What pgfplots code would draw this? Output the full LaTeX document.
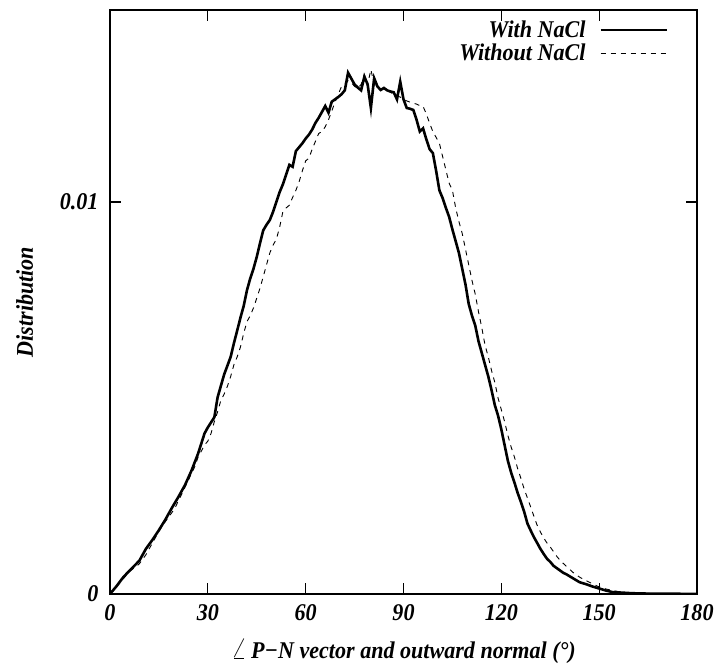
\documentclass[border=0pt]{standalone}
\usepackage{fontspec}
\setmainfont[FakeStretch=0.92]{Liberation Serif}
\usepackage{pgfplots}
\pgfplotsset{compat=1.18}

\pgfplotstableread{
x y
0 0
2 0.00020
4 0.00042
5 0.00051
7 0.00068
9 0.00085
11 0.00115
13 0.00138
15 0.00163
17 0.00190
19 0.00220
21 0.00248
23 0.00278
25 0.00315
27 0.00358
29 0.00410
30 0.00425
32 0.00451
33 0.00502
35 0.00560
37 0.00605
38 0.00640
39 0.00672
40 0.00705
41 0.00735
42 0.00775
43 0.00805
44 0.00830
45 0.00860
46 0.00895
47 0.00928
48 0.00942
49 0.00954
50 0.00975
51 0.01000
52 0.01025
53 0.01045
54 0.01070
55 0.01095
56 0.01090
57 0.01130
58 0.01140
59 0.01150
60 0.01162
61 0.01172
62 0.01185
63 0.01202
64 0.01215
65 0.01230
66 0.01245
67 0.01228
68 0.01256
69 0.01262
70 0.01268
71 0.01275
72 0.01285
73 0.01330
74 0.01315
75 0.01300
76 0.01292
77 0.01285
78 0.01320
79 0.01300
80 0.01240
81 0.01316
82 0.01295
83 0.01286
84 0.01291
85 0.01285
86 0.01282
87 0.01280
88 0.01262
89 0.01307
90 0.01262
91 0.01240
92 0.01238
93 0.01235
94 0.01210
95 0.01180
96 0.01188
97 0.01160
98 0.01135
99 0.01125
100 0.01080
101 0.01030
102 0.01010
103 0.00985
104 0.00962
105 0.00930
106 0.00900
107 0.00870
108 0.00830
109 0.00790
110 0.00740
111 0.00710
112 0.00685
113 0.00645
114 0.00615
115 0.00585
116 0.00555
117 0.00520
118 0.00482
119 0.00455
120 0.00420
121 0.00380
122 0.00340
123 0.00310
124 0.00285
125 0.00258
126 0.00235
127 0.00210
128 0.00180
129 0.00162
130 0.00145
131 0.00130
132 0.00115
133 0.00102
134 0.00090
135 0.00082
136 0.00072
137 0.00066
138 0.00060
139 0.00054
140 0.00050
142 0.00040
144 0.00030
146 0.00025
148 0.00019
150 0.00014
152 0.00009
154 0.00005
156 0.00004
160 0.00002
165 0.00001
170 0.00001
180 0.00000
}\withnacl

\pgfplotstableread{
x y
0 0
2 0.00018
4 0.00038
6 0.00058
8 0.00070
9 0.00077
11 0.00100
13 0.00130
15 0.00160
17 0.00185
19 0.00208
20 0.00221
22 0.00255
24 0.00290
26 0.00325
27 0.00349
29 0.00380
30 0.00390
31 0.00410
32 0.00440
33 0.00465
34 0.00494
35 0.00510
36 0.00530
37 0.00555
38 0.00585
39 0.00605
40 0.00630
41 0.00665
42 0.00695
43 0.00710
44 0.00730
45 0.00755
46 0.00780
47 0.00810
48 0.00840
49 0.00870
50 0.00890
51 0.00905
52 0.00935
53 0.00975
54 0.00985
55 0.00992
56 0.01012
57 0.01030
58 0.01052
59 0.01080
60 0.01105
61 0.01112
62 0.01135
63 0.01155
64 0.01175
65 0.01180
66 0.01192
67 0.01210
68 0.01232
69 0.01255
70 0.01275
71 0.01295
72 0.01300
73 0.01310
74 0.01305
75 0.01295
76 0.01290
77 0.01300
78 0.01325
79 0.01300
80 0.01338
81 0.01300
82 0.01290
83 0.01288
84 0.01290
85 0.01285
86 0.01280
87 0.01275
88 0.01270
89 0.01268
90 0.01262
91 0.01258
92 0.01255
93 0.01252
94 0.01250
95 0.01246
96 0.01244
97 0.01225
98 0.01201
99 0.01180
100 0.01165
101 0.01150
102 0.01116
103 0.01082
104 0.01048
105 0.01030
106 0.00985
107 0.00950
108 0.00920
109 0.00880
110 0.00840
111 0.00800
112 0.00765
113 0.00720
114 0.00680
115 0.00635
116 0.00605
117 0.00570
118 0.00540
119 0.00500
120 0.00470
121 0.00440
122 0.00405
123 0.00375
124 0.00350
125 0.00320
126 0.00295
127 0.00268
128 0.00245
129 0.00222
130 0.00198
131 0.00175
132 0.00158
133 0.00143
134 0.00130
135 0.00120
136 0.00108
137 0.00096
138 0.00086
139 0.00078
140 0.00070
142 0.00055
144 0.00043
146 0.00034
148 0.00026
150 0.00018
152 0.00013
154 0.00009
156 0.00006
158 0.00004
162 0.00002
170 0.00001
180 0
}\withoutnacl

\begin{document}
\begin{tikzpicture}
\begin{axis}[
    scale only axis,
    width=587bp, height=584bp,
    xmin=0, xmax=180,
    ymin=0, ymax=0.0149,
    xtick={0,30,60,90,120,150,180},
    xticklabels={0,30,60,90,120,150,180},
    ytick={0,0.01},
    yticklabels={0,0.01},
    tick align=inside,
    major tick length=11bp,
    axis line style={line width=1.4bp},
    every tick/.style={black, line width=1.2bp},
    font=\fontsize{24bp}{28bp}\selectfont\bfseries\itshape,
    xticklabel style={yshift=-7bp},
    yticklabel style={xshift=-8bp},
    xlabel={{\fontsize{28bp}{28bp}\selectfont$\angle$}\,P\char"2212N vector and outward normal (°)},
    ylabel={Distribution},
    xlabel style={at={(axis description cs:0.5,0)}, anchor=base, yshift=-64bp},
    ylabel style={at={(axis description cs:0,0.5)}, anchor=base, yshift=77bp},
    legend style={draw=none, fill=none, at={(rel axis cs:0.951,0.985)}, anchor=north east,
        inner sep=0pt, row sep=1bp, font=\fontsize{24bp}{28bp}\selectfont\bfseries\itshape},
    legend cell align=right,
    legend plot pos=right,
    legend image code/.code={\draw[#1] (0bp,0bp) -- (66bp,0bp);},
]
\path (rel axis cs:0,0) coordinate (o);
\addplot[black, line width=2.6bp] table[x=x, y=y] {\withnacl};
\addlegendentry{With NaCl\rule{12bp}{0pt}}
\addplot[black, line width=0.9bp, dash pattern=on 5bp off 5bp] table[x=x, y=y] {\withoutnacl};
\addlegendentry{Without NaCl\rule{12bp}{0pt}}
\end{axis}
\pgfresetboundingbox
\path (o) ++(-110bp,-76bp) rectangle ++(720bp,670bp);
\end{tikzpicture}
\end{document}
